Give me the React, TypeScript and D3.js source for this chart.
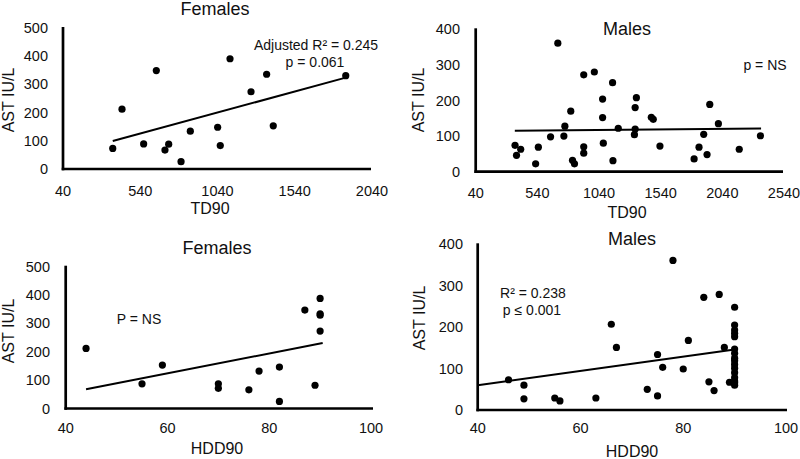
import React from "react";
import * as d3 from "d3";

// ---- Data ----
const femTD90 = [362, 422, 644, 562, 700, 724, 804, 864, 1041, 1058, 1121, 1358, 1257, 1401, 1870];
const femAST_TD = [73, 212, 349, 89, 67, 88, 26, 134, 148, 83, 391, 336, 274, 153, 331];
const femTrendTD_x = [362, 1870];
const femTrendTD_y = [99, 324];

const maleTD90 = [706, 916, 1002, 1150, 1069, 811, 1069, 763, 1196, 647, 755, 359, 405, 371, 548, 916, 916, 1075, 526, 825, 841, 1153, 1343, 1333, 1464, 1480, 1333, 1327, 1534, 1938, 2008, 1889, 1851, 1916, 1811, 2177, 2349];
const maleAST_TD = [361, 272, 280, 250, 204, 170, 152, 128, 122, 98, 100, 74, 63, 46, 69, 70, 52, 80, 22, 32, 22, 31, 208, 180, 153, 147, 120, 104, 72, 189, 135, 105, 69, 48, 36, 63, 101];
const maleTrendTD_x = [357, 2354];
const maleTrendTD_y = [115, 121];

const femHDD90 = [44, 55, 59, 70, 70, 76, 78, 82, 82, 87, 89, 90, 90, 90, 90];
const femAST_HDD = [212, 87, 153, 87, 71, 66, 132, 146, 25, 347, 82, 388, 334, 329, 273];
const femTrendHDD_x = [44, 90.5];
const femTrendHDD_y = [68, 231];

const maleHDD90 = [46, 49, 49, 55, 56, 63, 66, 67, 73, 75, 75, 76, 78, 80, 81, 84, 85, 86, 87, 88, 89, 90, 90, 90, 90, 90, 90, 90, 90, 90, 90, 90, 90, 90, 90, 90, 90];
const maleAST_HDD = [73, 60, 27, 29, 22, 29, 207, 151, 50, 134, 34, 103, 361, 99, 168, 272, 68, 47, 279, 151, 67, 248, 205, 193, 185, 177, 147, 137, 125, 119, 110, 101, 90, 78, 70, 66, 60];
const maleTrendHDD_x = [40, 90];
const maleTrendHDD_y = [60, 146];

const tdTicksF = [40, 540, 1040, 1540, 2040];
const tdTicksM = [40, 540, 1040, 1540, 2040, 2540];
const hddTicks = [40, 60, 80, 100];
const astTicks500 = [0, 100, 200, 300, 400, 500];
const astTicks400 = [0, 100, 200, 300, 400];

const FONT = "'Liberation Sans', Arial, Helvetica, sans-serif";

type Panel = {
  title: string;
  xTitle: string;
  xs: number[];
  ys: number[];
  tx: number[];
  ty: number[];
  xDomain: [number, number];
  yDomain: [number, number];
  xRange: [number, number];
  yRange: [number, number];
  xTicks: number[];
  yTicks: number[];
  xAxisEnd: number;
  titlePos: [number, number];
  xTitlePos: [number, number];
  yTitlePos: [number, number];
  yLabelRight: number;
  xLabelY: number;
  notes: { text: string; x: number; y: number }[];
};

const panels: Panel[] = [
  {
    title: "Females", xTitle: "TD90",
    xs: femTD90, ys: femAST_TD, tx: femTrendTD_x, ty: femTrendTD_y,
    xDomain: [40, 2040], yDomain: [0, 500],
    xRange: [63, 372], yRange: [169, 28],
    xTicks: tdTicksF, yTicks: astTicks500, xAxisEnd: 371,
    titlePos: [215, 9], xTitlePos: [210, 208], yTitlePos: [8, 100],
    yLabelRight: 48, xLabelY: 191,
    notes: [
      { text: "Adjusted R² = 0.245", x: 316, y: 45 },
      { text: "p = 0.061", x: 315, y: 62 },
    ],
  },
  {
    title: "Males", xTitle: "TD90",
    xs: maleTD90, ys: maleAST_TD, tx: maleTrendTD_x, ty: maleTrendTD_y,
    xDomain: [40, 2540], yDomain: [0, 400],
    xRange: [475.7, 784], yRange: [171.7, 29.3],
    xTicks: tdTicksM, yTicks: astTicks400, xAxisEnd: 783,
    titlePos: [627, 29], xTitlePos: [627, 212], yTitlePos: [418, 100],
    yLabelRight: 460, xLabelY: 193,
    notes: [{ text: "p = NS", x: 765, y: 65 }],
  },
  {
    title: "Females", xTitle: "HDD90",
    xs: femHDD90, ys: femAST_HDD, tx: femTrendHDD_x, ty: femTrendHDD_y,
    xDomain: [40, 100], yDomain: [0, 500],
    xRange: [65.7, 371], yRange: [408.5, 266.7],
    xTicks: hddTicks, yTicks: astTicks500, xAxisEnd: 373,
    titlePos: [217, 248], xTitlePos: [217, 448], yTitlePos: [8, 331],
    yLabelRight: 50, xLabelY: 428,
    notes: [{ text: "P = NS", x: 139, y: 319 }],
  },
  {
    title: "Males", xTitle: "HDD90",
    xs: maleHDD90, ys: maleAST_HDD, tx: maleTrendHDD_x, ty: maleTrendHDD_y,
    xDomain: [40, 100], yDomain: [0, 400],
    xRange: [477.7, 786], yRange: [410, 244.3],
    xTicks: hddTicks, yTicks: astTicks400, xAxisEnd: 787,
    titlePos: [632, 239], xTitlePos: [632, 451], yTitlePos: [419, 318],
    yLabelRight: 463, xLabelY: 428,
    notes: [
      { text: "R² = 0.238", x: 533, y: 293 },
      { text: "p ≤ 0.001", x: 532, y: 310 },
    ],
  },
];

function PanelView({ p }: { p: Panel }) {
  const x = d3.scaleLinear().domain(p.xDomain).range(p.xRange);
  const y = d3.scaleLinear().domain(p.yDomain).range(p.yRange);
  const line = d3
    .line<number>()
    .x((_, i) => x(p.tx[i]))
    .y((_, i) => y(p.ty[i]));
  const x0 = p.xRange[0];
  const y0 = p.yRange[0];
  const yTop = p.yRange[1];
  return (
    <g>
      <line x1={x0} x2={x0} y1={yTop - 1} y2={y0 + 1.3} stroke="#000" strokeWidth={2.7} />
      <line x1={x0 - 1.3} x2={p.xAxisEnd} y1={y0} y2={y0} stroke="#000" strokeWidth={2.7} />
      {p.yTicks.map((t) => (
        <text key={"y" + t} x={p.yLabelRight} y={y(t)} textAnchor="end" dominantBaseline="central"
          fontSize={14.5} fontFamily={FONT} fill="#111">{t}</text>
      ))}
      {p.xTicks.map((t) => (
        <text key={"x" + t} x={x(t)} y={p.xLabelY} textAnchor="middle" dominantBaseline="central"
          fontSize={14.5} fontFamily={FONT} fill="#111">{t}</text>
      ))}
      <path d={line(p.tx) || ""} fill="none" stroke="#000" strokeWidth={2} />
      {p.xs.map((v, i) => (
        <circle key={i} cx={x(v)} cy={y(p.ys[i])} r={3.6} fill="#000" />
      ))}
      <text x={p.titlePos[0]} y={p.titlePos[1]} textAnchor="middle" dominantBaseline="central"
        fontSize={18} fontFamily={FONT} fill="#111">{p.title}</text>
      <text x={p.xTitlePos[0]} y={p.xTitlePos[1]} textAnchor="middle" dominantBaseline="central"
        fontSize={16} fontFamily={FONT} fill="#111">{p.xTitle}</text>
      <text transform={`translate(${p.yTitlePos[0]},${p.yTitlePos[1]}) rotate(-90)`} textAnchor="middle"
        dominantBaseline="central" fontSize={16} fontFamily={FONT} fill="#111">AST IU/L</text>
      {p.notes.map((n, i) => (
        <text key={i} x={n.x} y={n.y} textAnchor="middle" dominantBaseline="central"
          fontSize={14} fontFamily={FONT} fill="#111">{n.text}</text>
      ))}
    </g>
  );
}

export default function App() {
  return (
    <svg width={800} height={459} style={{ position: "absolute", left: 0, top: 0, background: "#fff" }}>
      <rect width={800} height={459} fill="#fff" />
      {panels.map((p, i) => (
        <PanelView key={i} p={p} />
      ))}
    </svg>
  );
}
